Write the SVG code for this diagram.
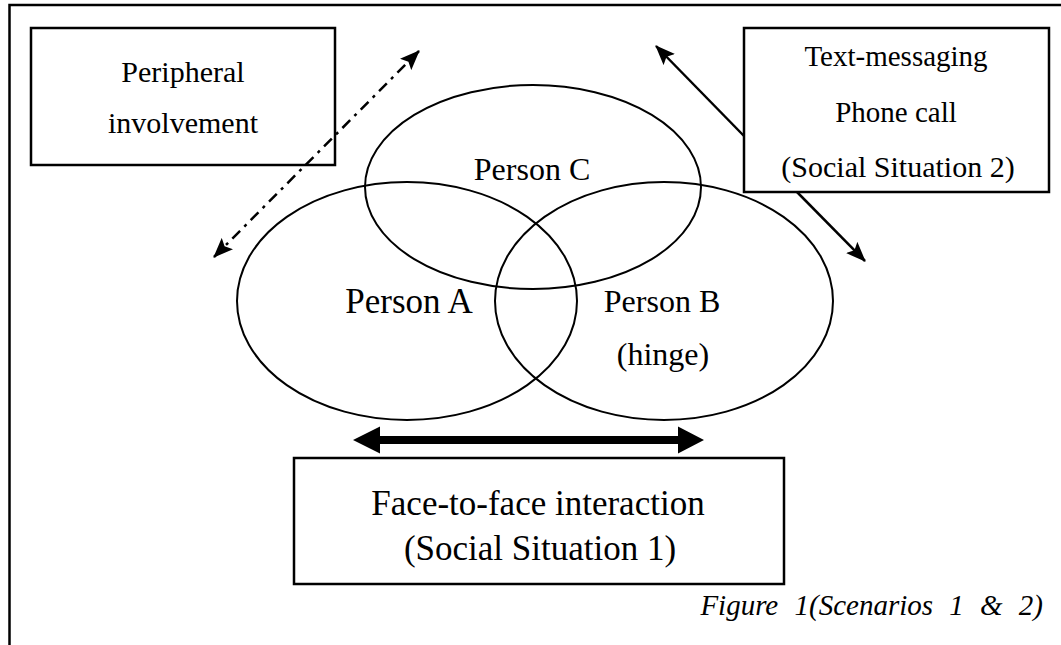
<svg xmlns="http://www.w3.org/2000/svg" width="1061" height="645" viewBox="0 0 1061 645">
<defs>
<style>
.box{fill:#fff;stroke:#000;stroke-width:2.5}
.ell{fill:none;stroke:#000;stroke-width:2}
.t{font-family:"Liberation Serif","Times New Roman",serif;fill:#000;text-anchor:middle}
.conn{stroke:#000;stroke-width:2.5;fill:none}
</style>
<marker id="ah" markerUnits="userSpaceOnUse" markerWidth="20" markerHeight="16" viewBox="0 0 20 16" refX="19" refY="8" orient="auto-start-reverse">
<path d="M0,0 L20,8 L0,16 L4,8 Z" fill="#000"/>
</marker>
</defs>
<rect width="1061" height="645" fill="#fff"/>
<g id="frame">
<path d="M9.5,645 V5 H1061" fill="none" stroke="#000" stroke-width="2.5"/>
</g>
<g id="personA"><ellipse class="ell" cx="407" cy="301" rx="170" ry="119"/><text class="t" x="409" y="313" font-size="35">Person A</text></g>
<g id="personB"><ellipse class="ell" cx="664" cy="301" rx="169" ry="119"/><text class="t" x="662" y="312" font-size="32">Person B</text><text class="t" x="663" y="365" font-size="32">(hinge)</text></g>
<g id="personC"><ellipse class="ell" cx="533" cy="187" rx="168" ry="102"/><text class="t" x="532" y="180" font-size="32">Person C</text></g>
<g id="peripheral"><rect class="box" x="31" y="28" width="304" height="137"/><text class="t" x="183" y="82" font-size="30">Peripheral</text><text class="t" x="183" y="133" font-size="30">involvement</text></g>
<g id="textmsg"><rect class="box" x="744" y="28" width="305" height="164"/><text class="t" x="896" y="66" font-size="29">Text-messaging</text><text class="t" x="896" y="122" font-size="29">Phone call</text><text class="t" x="898" y="177" font-size="30">(Social Situation 2)</text></g>
<g id="facetoface"><rect class="box" x="294" y="458" width="490" height="126"/><text class="t" x="538" y="515" font-size="35">Face-to-face interaction</text><text class="t" x="540" y="560" font-size="35">(Social Situation 1)</text></g>
<g id="connectors">
<line class="conn" x1="214" y1="257" x2="419" y2="51" stroke-width="3" stroke-dasharray="11 6 3 6" marker-start="url(#ah)" marker-end="url(#ah)"/>
<line class="conn" x1="744" y1="136" x2="656" y2="46" marker-end="url(#ah)"/>
<line class="conn" x1="797" y1="192" x2="865" y2="261" marker-end="url(#ah)"/>
<path d="M353,440 L380,426.5 L380,436 L678,436 L678,426.5 L704,440 L678,453.5 L678,444 L380,444 L380,453.5 Z" fill="#000"/>
</g>
<g id="caption"><text x="1043" y="615" font-family="'Liberation Serif','Times New Roman',serif" font-style="italic" font-size="29" text-anchor="end" word-spacing="9">Figure 1(Scenarios 1 &amp; 2)</text></g>
</svg>
